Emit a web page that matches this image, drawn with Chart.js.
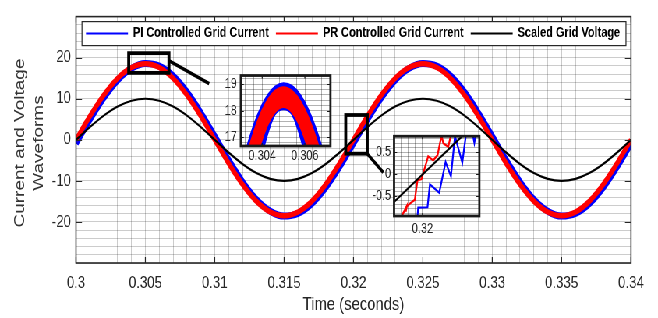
<!DOCTYPE html>
<html>
<head>
<meta charset="utf-8">
<script src="https://cdn.jsdelivr.net/npm/chart.js@4.4.0/dist/chart.umd.min.js"></script>
<style>
html, body { margin: 0; padding: 0; background: #fff; overflow: hidden; }
#outer { position: relative; width: 658px; height: 318px; overflow: hidden; }
/* the reference is horizontally condensed, so draw wide and squeeze */
#wrap { position: absolute; left: 0; top: 0; width: 844px; height: 318px;
        transform: scaleX(0.779621); transform-origin: 0 0; }
#wrap canvas { position: absolute; }
</style>
</head>
<body>
<div id="outer"><div id="wrap">
    <canvas id="mainChart" width="844" height="318" style="left:0;top:0"></canvas>
    <canvas id="zoomPeak"></canvas>
    <canvas id="zoomCross"></canvas>
</div></div>
<script>
// ---- main plot, one sample per ms
const TIME = [0.300, 0.301, 0.302, 0.303, 0.304, 0.305, 0.306, 0.307, 0.308, 0.309,
              0.310, 0.311, 0.312, 0.313, 0.314, 0.315, 0.316, 0.317, 0.318, 0.319,
              0.320, 0.321, 0.322, 0.323, 0.324, 0.325, 0.326, 0.327, 0.328, 0.329,
              0.330, 0.331, 0.332, 0.333, 0.334, 0.335, 0.336, 0.337, 0.338, 0.339, 0.340];
const PI_CURRENT = [-0.88, 4.91, 10.21, 14.51, 17.39, 18.58, 17.94, 15.55, 11.63, 6.57,
                    0.88, -4.91, -10.21, -14.51, -17.39, -18.58, -17.94, -15.55, -11.63, -6.57,
                    -0.88, 4.91, 10.21, 14.51, 17.39, 18.58, 17.94, 15.55, 11.63, 6.57,
                    0.88, -4.91, -10.21, -14.51, -17.39, -18.58, -17.94, -15.55, -11.63, -6.57, -0.88];
const PR_CURRENT = [0, 5.72, 10.87, 14.97, 17.59, 18.5, 17.59, 14.97, 10.87, 5.72,
                    0, -5.72, -10.87, -14.97, -17.59, -18.5, -17.59, -14.97, -10.87, -5.72,
                    0, 5.72, 10.87, 14.97, 17.59, 18.5, 17.59, 14.97, 10.87, 5.72,
                    0, -5.72, -10.87, -14.97, -17.59, -18.5, -17.59, -14.97, -10.87, -5.72, 0];
const GRID_VOLTAGE = [0, 3.09, 5.88, 8.09, 9.51, 10, 9.51, 8.09, 5.88, 3.09,
                      0, -3.09, -5.88, -8.09, -9.51, -10, -9.51, -8.09, -5.88, -3.09,
                      0, 3.09, 5.88, 8.09, 9.51, 10, 9.51, 8.09, 5.88, 3.09,
                      0, -3.09, -5.88, -8.09, -9.51, -10, -9.51, -8.09, -5.88, -3.09, 0];
const X_LABELS = [0.3, 0.305, 0.31, 0.315, 0.32, 0.325, 0.33, 0.335, 0.34];
const Y_LABELS = [-20, -10, 0, 10, 20];
const LEGEND_LABELS = ['PI Controlled Grid Current', 'PR Controlled Grid Current', 'Scaled Grid Voltage'];

// ---- zoom at the peak (ripple band edges)
const PEAK_TIME = [0.3030, 0.3034, 0.3038, 0.3042, 0.3046, 0.3050, 0.3054, 0.3058, 0.3062, 0.3066, 0.3070];
const PEAK_PI_TOP = [15.8, 16.97, 17.88, 18.53, 18.92, 19.05, 18.95, 18.6, 18.0, 17.15, 16.1];
const PEAK_PI_BOTTOM = [11.3, 13.7, 15.6, 16.96, 17.85, 18.05, 17.85, 16.96, 15.6, 13.7, 11.3];
const PEAK_PR_TOP = [15.42, 16.67, 17.65, 18.34, 18.76, 18.9, 18.76, 18.36, 17.7, 16.8, 15.6];
const PEAK_PR_BOTTOM = [13.25, 15.0, 16.37, 17.35, 17.93, 18.13, 17.93, 17.35, 16.4, 15.05, 13.3];
const PEAK_X_LABELS = [0.304, 0.306];
const PEAK_Y_LABELS = [17, 18, 19];

// ---- zoom at the zero crossing
const CROSS_PI_T = [0.31991, 0.319924, 0.320088, 0.32013, 0.320294, 0.320406, 0.3205, 0.320571, 0.3207, 0.320775, 0.32087, 0.320912, 0.32095];
const CROSS_PI_V = [-1.0, -0.77, -0.76, -0.24, -0.43, 0.27, -0.05, 0.86, 0.26, 1.0, 1.0, 0.71, 1.0];
const CROSS_PR_T = [0.31962, 0.319717, 0.319705, 0.319725, 0.319794, 0.319865, 0.319911, 0.319982, 0.3201, 0.320188, 0.320265, 0.320335, 0.320365, 0.320453, 0.32052];
const CROSS_PR_V = [-1.0, -0.75, -0.86, -0.74, -0.66, -0.59, -0.15, -0.12, 0.40, 0.31, 0.43, 0.88, 0.70, 0.62, 1.0];
const CROSS_V_T = [0.3195, 0.3210];
const CROSS_V_V = [-0.64, 1.24];
const CROSS_X_LABELS = [0.32];
const CROSS_Y_LABELS = [-0.5, 0, 0.5];

// marker boxes and leader lines on the main plot (data units)
const ZOOM_BOXES = [
    { x0: 0.3038, x1: 0.3067, y0: 16.3, y1: 21.1 },
    { x0: 0.31944, x1: 0.32099, y0: -3.38, y1: 6.04 }
];
const LEADERS = [
    { x0: 0.30672, y0: 19.2, x1: 0.3096, y1: 13.7 },
    { x0: 0.32099, y0: -3.38, x1: 0.32215, y1: -7.97 }
];

// horizontal squeeze of the whole picture; sx() turns screen px into canvas px
const SQ = 658 / 844;
const sx = px => px / SQ;

const SANS = "'Liberation Sans', Arial, sans-serif";
const INK = '#262626';

Chart.defaults.font.family = SANS;
Chart.defaults.animation = false;

const pts = (xs, ys) => xs.map((x, i) => ({ x: x, y: ys[i] }));

// grid positions every `step`, lined up on `anchor`
function gridTicks(min, max, step, anchor) {
    const out = [];
    let k = Math.ceil((min - anchor) / step - 1e-6);
    for (;; k++) {
        const v = +(anchor + k * step).toFixed(8);
        if (v > max + 1e-9) break;
        out.push({ value: v });
    }
    return out;
}

function axis(o) {
    return {
        type: 'linear',
        min: o.min, max: o.max,
        afterBuildTicks: s => { s.ticks = gridTicks(o.min, o.max, o.step, o.anchor); },
        afterFit: s => { if (o.x) s.height = o.fit; else s.width = o.fit; },
        grid: { color: o.gridColor, lineWidth: 1, drawTicks: false },
        border: { display: false },
        title: o.title || { display: false },
        ticks: {
            autoSkip: false, maxRotation: 0, minRotation: 0,
            padding: o.pad, color: INK,
            font: { family: SANS, size: o.fontSize },
            callback: v => o.labels.some(l => Math.abs(v - l) < o.step / 10) ? String(+v.toFixed(4)) : ''
        }
    };
}

// box around the axes with inward tick marks
const framePlugin = {
    id: 'frame',
    beforeDraw(chart, args, opts) {
        if (!opts.fill) return;
        const { ctx, chartArea: a } = chart;
        ctx.save();
        ctx.fillStyle = '#fff';
        ctx.fillRect(a.left, a.top, a.right - a.left, a.bottom - a.top);
        ctx.restore();
    },
    afterDatasetsDraw(chart, args, opts) {
        const { ctx, chartArea: a, scales: { x, y } } = chart;
        ctx.save();
        ctx.strokeStyle = opts.color;
        ctx.lineWidth = 1.2;
        ctx.beginPath();
        opts.xMajor.forEach(v => {
            const px = x.getPixelForValue(v);
            ctx.moveTo(px, a.bottom); ctx.lineTo(px, a.bottom - opts.tick);
            ctx.moveTo(px, a.top); ctx.lineTo(px, a.top + opts.tick);
        });
        opts.yMajor.forEach(v => {
            const py = Math.round(y.getPixelForValue(v)) + 0.5;
            ctx.moveTo(a.left, py); ctx.lineTo(a.left + sx(opts.tick), py);
            ctx.moveTo(a.right, py); ctx.lineTo(a.right - sx(opts.tick), py);
        });
        ctx.stroke();
        ctx.lineWidth = opts.width;
        ctx.strokeRect(a.left, a.top, a.right - a.left, a.bottom - a.top);
        ctx.restore();
    }
};

// marker boxes, leader lines, legend and y title of the main plot
const overlayPlugin = {
    id: 'overlay',
    afterDraw(chart) {
        const { ctx, chartArea: a, scales: { x, y } } = chart;
        ctx.save();

        ctx.strokeStyle = '#000';
        ctx.lineWidth = 3.8;
        ZOOM_BOXES.forEach(b => {
            const x0 = x.getPixelForValue(b.x0), x1 = x.getPixelForValue(b.x1);
            const y0 = y.getPixelForValue(b.y0), y1 = y.getPixelForValue(b.y1);
            ctx.strokeRect(x0, y1, x1 - x0, y0 - y1);
        });
        ctx.lineWidth = 3.5;
        ctx.beginPath();
        LEADERS.forEach(l => {
            ctx.moveTo(x.getPixelForValue(l.x0), y.getPixelForValue(l.y0));
            ctx.lineTo(x.getPixelForValue(l.x1), y.getPixelForValue(l.y1));
        });
        ctx.stroke();

        // legend
        const colors = ['#0000ff', '#ff0000', '#000000'];
        const boxL = a.left + sx(6), boxR = a.right - sx(5), boxT = a.top + 4.5, boxH = 24;
        ctx.font = 'bold 14px ' + SANS;
        const widths = LEGEND_LABELS.map(t => ctx.measureText(t).width);
        const used = sx(10) + widths.reduce((s, w) => s + w + sx(47), 0);
        const gap = (boxR - boxL - used) / 2;
        ctx.fillStyle = '#fff';
        ctx.fillRect(boxL, boxT, boxR - boxL, boxH);
        ctx.lineWidth = 1.2;
        ctx.strokeStyle = INK;
        ctx.strokeRect(boxL, boxT + 0.5, boxR - boxL, boxH);
        const cy = boxT + boxH / 2 + 0.5;
        let px = boxL + sx(4);
        LEGEND_LABELS.forEach((t, i) => {
            ctx.strokeStyle = colors[i];
            ctx.lineWidth = 2;
            ctx.beginPath();
            ctx.moveTo(px, cy); ctx.lineTo(px + sx(42), cy);
            ctx.stroke();
            ctx.fillStyle = '#000';
            ctx.textBaseline = 'middle';
            ctx.textAlign = 'left';
            ctx.fillText(t, px + sx(47), cy);
            px += sx(47) + widths[i] + gap;
        });

        // y axis title, two lines
        ctx.translate(sx(29.5), 143);
        ctx.rotate(-Math.PI / 2);
        ctx.font = '19px ' + SANS;
        ctx.fillStyle = '#333';
        ctx.textAlign = 'center';
        ctx.textBaseline = 'middle';
        ctx.fillText('Current and Voltage', 0, -sx(9.5));
        ctx.fillText('Waveforms', 0, sx(9.5));
        ctx.restore();
    }
};

// ---- main chart
new Chart(document.getElementById('mainChart'), {
    type: 'line',
    data: {
        datasets: [
            { label: LEGEND_LABELS[0], data: pts(TIME, PI_CURRENT), borderColor: '#0000ff', borderWidth: 7, order: 2 },
            { label: LEGEND_LABELS[1], data: pts(TIME, PR_CURRENT), borderColor: '#ff0000', borderWidth: 5.5, order: 1 },
            { label: LEGEND_LABELS[2], data: pts(TIME, GRID_VOLTAGE), borderColor: '#000000', borderWidth: 2.2, order: 0 }
        ]
    },
    options: {
        responsive: false,
        elements: { point: { radius: 0 }, line: { cubicInterpolationMode: 'monotone', fill: false } },
        layout: { padding: { left: 0, right: sx(27), top: 8, bottom: 0 } },
        plugins: {
            legend: { display: false },
            tooltip: { enabled: false },
            frame: { color: INK, width: 1.6, tick: 6, xMajor: X_LABELS, yMajor: Y_LABELS }
        },
        scales: {
            x: axis({ x: true, min: 0.3, max: 0.34, step: 0.001, anchor: 0.3, labels: X_LABELS,
                      fit: 55, pad: 10, fontSize: 17, gridColor: 'rgba(0,0,0,0.2)',
                      title: { display: true, text: 'Time (seconds)', color: INK,
                               font: { family: SANS, size: 19 }, padding: { top: 0, bottom: 2 } } }),
            y: axis({ min: -30, max: 30, step: 2, anchor: 0, labels: Y_LABELS,
                      fit: sx(76), pad: sx(5), fontSize: 17, gridColor: 'rgba(0,0,0,0.2)' })
        }
    },
    plugins: [framePlugin, overlayPlugin]
});

// ---- inset charts (boxes given in screen px)
function placeInset(id, box, m) {
    const c = document.getElementById(id);
    const w = Math.round(sx(box.right - box.left + m.l + m.r));
    const h = box.bottom - box.top + m.t + m.b;
    c.width = w; c.height = h;
    c.style.left = sx(box.left - m.l) + 'px';
    c.style.top = (box.top - m.t) + 'px';
    return c;
}

const peakCanvas = placeInset('zoomPeak', { left: 241, top: 66, right: 331, bottom: 146 }, { l: 28, t: 4, r: 4, b: 22 });
new Chart(peakCanvas, {
    type: 'line',
    data: {
        datasets: [
            { data: pts(PEAK_TIME, PEAK_PI_TOP), borderColor: '#0000ff', backgroundColor: '#0000ff', borderWidth: 1.5, fill: '+1', order: 2 },
            { data: pts(PEAK_TIME, PEAK_PI_BOTTOM), borderColor: '#0000ff', borderWidth: 1.5, fill: false, order: 2 },
            { data: pts(PEAK_TIME, PEAK_PR_TOP), borderColor: '#ff0000', backgroundColor: '#ff0000', borderWidth: 1.5, fill: '+1', order: 1 },
            { data: pts(PEAK_TIME, PEAK_PR_BOTTOM), borderColor: '#ff0000', borderWidth: 1.5, fill: false, order: 1 }
        ]
    },
    options: {
        responsive: false,
        elements: { point: { radius: 0 }, line: { cubicInterpolationMode: 'monotone' } },
        datasets: { line: { clip: 0 } },
        layout: { padding: { left: 0, right: sx(4), top: 4, bottom: 0 } },
        plugins: {
            legend: { display: false },
            tooltip: { enabled: false },
            frame: { fill: true, color: '#1a1a1a', width: 2.8, tick: 3, xMajor: PEAK_X_LABELS, yMajor: PEAK_Y_LABELS }
        },
        scales: {
            x: axis({ x: true, min: 0.303, max: 0.3072, step: 0.0004, anchor: 0.304, labels: PEAK_X_LABELS,
                      fit: 22, pad: 2, fontSize: 14, gridColor: 'rgba(0,0,0,0.3)' }),
            y: axis({ min: 16.67, max: 19.33, step: 0.2, anchor: 17, labels: PEAK_Y_LABELS,
                      fit: sx(28), pad: sx(4), fontSize: 14, gridColor: 'rgba(0,0,0,0.3)' })
        }
    },
    plugins: [framePlugin]
});

const crossCanvas = placeInset('zoomCross', { left: 394, top: 128, right: 479, bottom: 216 }, { l: 30, t: 4, r: 4, b: 26 });
new Chart(crossCanvas, {
    type: 'line',
    data: {
        datasets: [
            { data: pts(CROSS_PI_T, CROSS_PI_V), borderColor: '#0000ff', borderWidth: 2.2, order: 2 },
            { data: pts(CROSS_PR_T, CROSS_PR_V), borderColor: '#ff0000', borderWidth: 2.2, order: 1 },
            { data: pts(CROSS_V_T, CROSS_V_V), borderColor: '#000000', borderWidth: 2.2, order: 0 }
        ]
    },
    options: {
        responsive: false,
        elements: { point: { radius: 0 }, line: { tension: 0, fill: false } },
        datasets: { line: { clip: 0 } },
        layout: { padding: { left: 0, right: sx(4), top: 4, bottom: 0 } },
        plugins: {
            legend: { display: false },
            tooltip: { enabled: false },
            frame: { fill: true, color: '#1a1a1a', width: 2.8, tick: 3, xMajor: CROSS_X_LABELS, yMajor: CROSS_Y_LABELS }
        },
        scales: {
            x: axis({ x: true, min: 0.3195, max: 0.321, step: 0.000125, anchor: 0.32, labels: CROSS_X_LABELS,
                      fit: 26, pad: 5, fontSize: 14, gridColor: 'rgba(0,0,0,0.3)' }),
            y: axis({ min: -0.96, max: 0.86, step: 0.1, anchor: 0, labels: CROSS_Y_LABELS,
                      fit: sx(30), pad: sx(3), fontSize: 14, gridColor: 'rgba(0,0,0,0.3)' })
        }
    },
    plugins: [framePlugin]
});
</script>
</body>
</html>
